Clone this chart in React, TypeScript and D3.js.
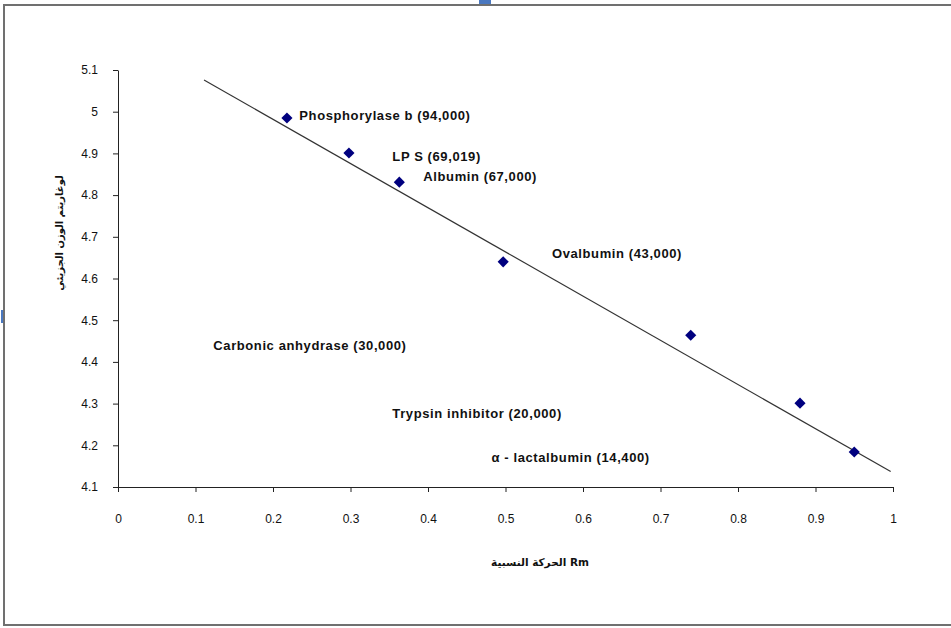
import React from "react";
import * as d3 from "d3";

// Rm values (x) and log of molecular weight (y)
const rmValues = [0.218, 0.298, 0.363, 0.497, 0.739, 0.88, 0.95];
const logMw = [4.985, 4.901, 4.831, 4.64, 4.464, 4.301, 4.184];

// linear trend line, drawn between these two points
const trendRm = [0.111, 0.997];
const trendLog = [5.076, 4.137];

// free text labels placed on the plot, in data units
const labelText = [
  "Phosphorylase b (94,000)",
  "LP S (69,019)",
  "Albumin (67,000)",
  "Ovalbumin (43,000)",
  "Carbonic anhydrase (30,000)",
  "Trypsin inhibitor (20,000)",
  "\u03b1 - lactalbumin (14,400)",
];
const labelRm = [0.234, 0.354, 0.394, 0.56, 0.123, 0.354, 0.482];
const labelLog = [4.98, 4.882, 4.835, 4.649, 4.428, 4.265, 4.16];

const xTicks = [0, 0.1, 0.2, 0.3, 0.4, 0.5, 0.6, 0.7, 0.8, 0.9, 1];
const yTicks = [4.1, 4.2, 4.3, 4.4, 4.5, 4.6, 4.7, 4.8, 4.9, 5, 5.1];

const xTitle = "الحركة النسبية Rm";
const yTitle = "لوغاريتم الوزن الجزيئي";

const W = 951,
  H = 628;
const margin = { left: 118, right: 58, top: 70, bottom: 141 };

const App = () => {
  const ref = React.useRef<SVGSVGElement>(null);

  React.useEffect(() => {
    const svg = d3.select(ref.current);
    svg.selectAll("*").remove();

    const x = d3
      .scaleLinear()
      .domain([0, 1])
      .range([margin.left, W - margin.right]);
    const y = d3
      .scaleLinear()
      .domain([4.1, 5.1])
      .range([H - margin.bottom, margin.top]);

    // outer frame
    svg
      .append("rect")
      .attr("x", 4)
      .attr("y", 5)
      .attr("width", W + 10)
      .attr("height", 620)
      .attr("fill", "#fff")
      .attr("stroke", "#707070")
      .attr("stroke-width", 2);

    // little selection handles
    svg.append("rect").attr("x", 479).attr("y", 0).attr("width", 12).attr("height", 4).attr("fill", "#4a78c0");
    svg.append("rect").attr("x", 1).attr("y", 310).attr("width", 2).attr("height", 13).attr("fill", "#4a78c0");

    const font = "'Liberation Sans Narrow', 'Arial Narrow', 'Liberation Sans', Arial, sans-serif";

    // x axis
    const xAxis = svg
      .append("g")
      .attr("transform", `translate(0,${y(4.1)})`)
      .call(
        d3
          .axisBottom(x)
          .tickValues(xTicks)
          .tickSize(5)
          .tickSizeOuter(0)
          .tickPadding(22)
          .tickFormat((d) => String(+(+d).toFixed(1)))
      );
    xAxis.select(".domain").attr("stroke", "#222");
    xAxis.selectAll(".tick line").attr("stroke", "#222");
    xAxis
      .selectAll("text")
      .attr("font-family", font)
      .attr("font-size", 12)
      .attr("fill", "#111");

    // y axis
    const yAxis = svg
      .append("g")
      .attr("transform", `translate(${x(0)},0)`)
      .call(
        d3
          .axisLeft(y)
          .tickValues(yTicks)
          .tickSize(5)
          .tickSizeOuter(0)
          .tickPadding(15)
          .tickFormat((d) => String(+(+d).toFixed(1)))
      );
    yAxis.select(".domain").attr("stroke", "#222");
    yAxis.selectAll(".tick line").attr("stroke", "#222");
    yAxis
      .selectAll("text")
      .attr("font-family", font)
      .attr("font-size", 12)
      .attr("fill", "#111");

    // trend line
    svg
      .append("path")
      .attr(
        "d",
        d3.line<number>()
          .x((d) => x(trendRm[d]))
          .y((d) => y(trendLog[d]))([0, 1])
      )
      .attr("stroke", "#333")
      .attr("stroke-width", 1.2)
      .attr("fill", "none");

    // diamonds
    const diamond = d3.symbol(d3.symbolSquare, 62)();
    svg
      .append("g")
      .selectAll("path")
      .data(rmValues)
      .join("path")
      .attr("d", diamond)
      .attr("transform", (d, i) => `translate(${x(d)},${y(logMw[i])}) rotate(45)`)
      .attr("fill", "#00007f");

    // protein labels
    svg
      .append("g")
      .selectAll("text")
      .data(labelText)
      .join("text")
      .attr("x", (d, i) => x(labelRm[i]))
      .attr("y", (d, i) => y(labelLog[i]))
      .attr("font-family", "'Liberation Sans', Arial, sans-serif")
      .attr("font-size", 13)
      .attr("letter-spacing", 0.6)
      .attr("font-weight", "bold")
      .attr("fill", "#111")
      .text((d) => d);

    // axis titles
    svg
      .append("text")
      .attr("x", 540)
      .attr("y", 566)
      .attr("text-anchor", "middle")
      .attr("font-family", "'DejaVu Sans', 'Noto Sans', sans-serif")
      .attr("font-size", 10.5)
      .attr("font-weight", "bold")
      .attr("fill", "#111")
      .text(xTitle);

    svg
      .append("text")
      .attr("transform", `translate(63,233) rotate(-90)`)
      .attr("text-anchor", "middle")
      .attr("font-family", "'DejaVu Sans', 'Noto Sans', sans-serif")
      .attr("font-size", 10)
      .attr("font-weight", "bold")
      .attr("fill", "#111")
      .text(yTitle);
  }, []);

  return (
    <svg
      ref={ref}
      width={W}
      height={H}
      style={{ position: "absolute", left: 0, top: 0, background: "#fff" }}
    />
  );
};

export default App;
